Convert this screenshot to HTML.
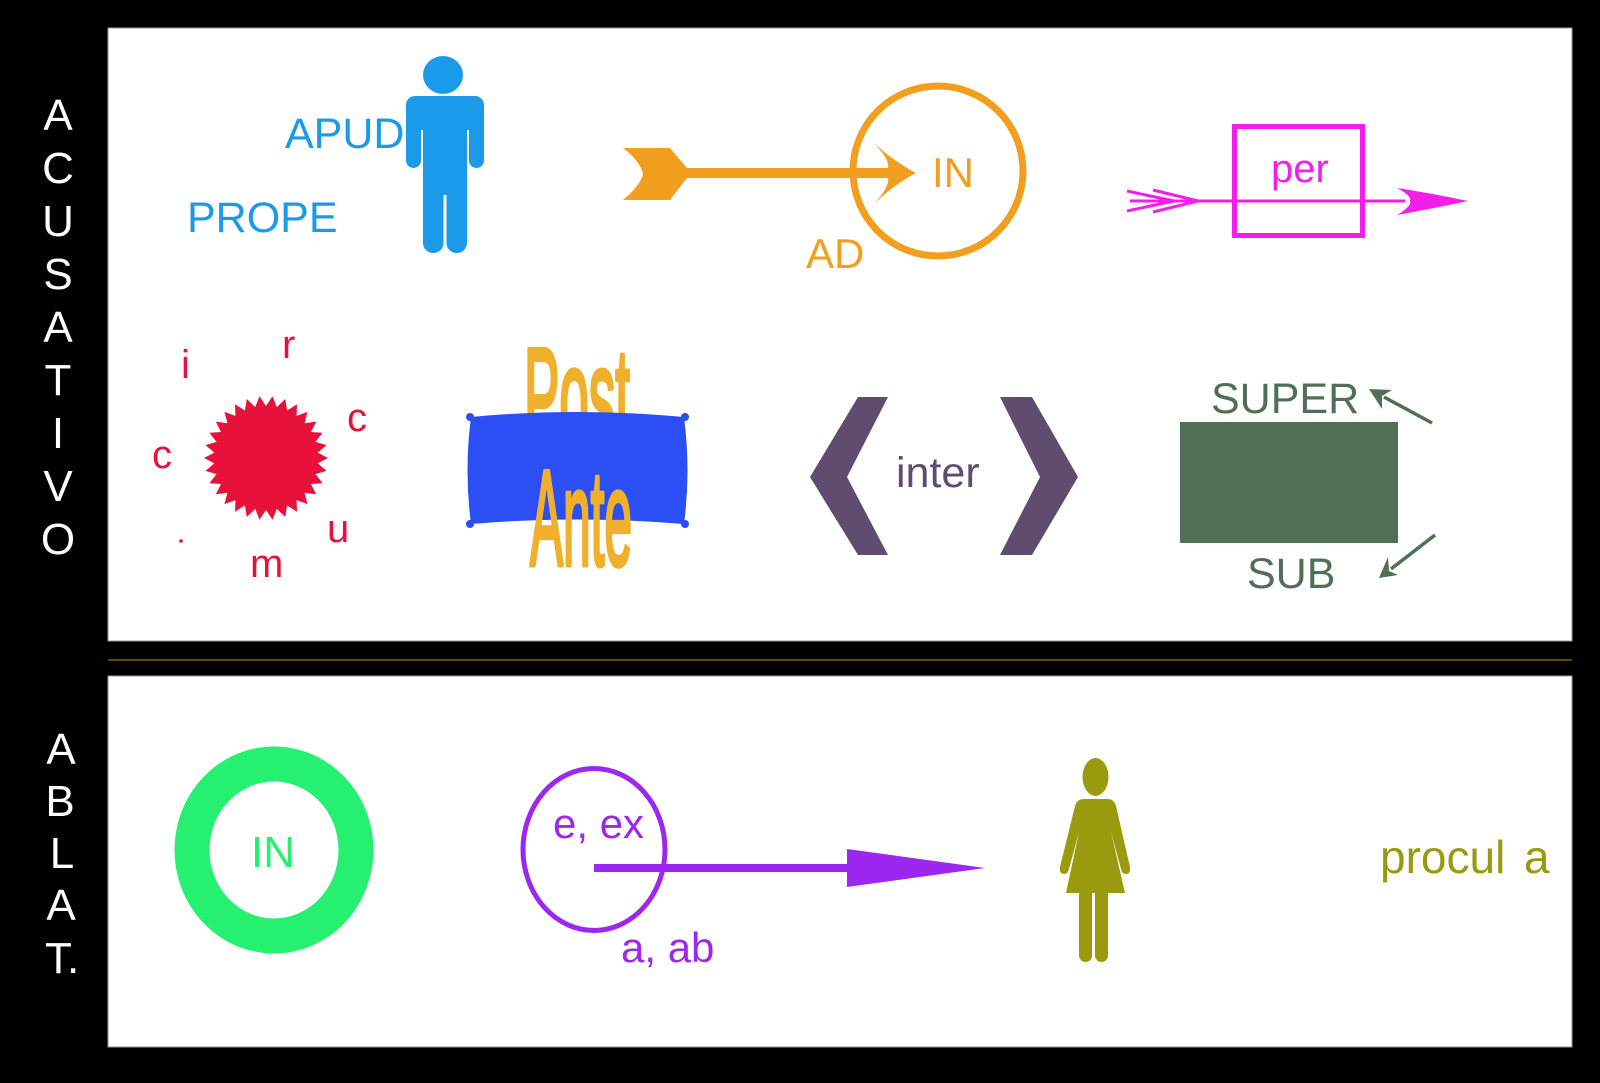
<!DOCTYPE html>
<html>
<head>
<meta charset="utf-8">
<style>
  html,body{margin:0;padding:0;background:#000;}
  svg{display:block;}
  text{font-family:"Liberation Sans", Arial, sans-serif;}
</style>
</head>
<body>
<svg width="1600" height="1083" viewBox="0 0 1600 1083" xmlns="http://www.w3.org/2000/svg">
  <rect x="0" y="0" width="1600" height="1083" fill="#000"/>
  <!-- panels -->
  <rect x="108" y="28" width="1464" height="613" fill="#fff" stroke="#9a9a9a" stroke-width="1"/>
  <line x1="108" y1="660" x2="1572" y2="660" stroke="#8a5a22" stroke-width="1.5"/>
  <rect x="108" y="676" width="1464" height="371" fill="#fff" stroke="#9a9a9a" stroke-width="1"/>

  <!-- left vertical labels -->
  <g fill="#fff" font-size="44" text-anchor="middle">
    <text x="58" y="130">A</text>
    <text x="58" y="183">C</text>
    <text x="58" y="236">U</text>
    <text x="58" y="289">S</text>
    <text x="58" y="342">A</text>
    <text x="58" y="395">T</text>
    <text x="58" y="448">I</text>
    <text x="58" y="501">V</text>
    <text x="58" y="554">O</text>

    <text x="61" y="764">A</text>
    <text x="60" y="816">B</text>
    <text x="62" y="868">L</text>
    <text x="61" y="920">A</text>
    <text x="45" y="973" text-anchor="start">T.</text>
  </g>

  <!-- APUD / PROPE man -->
  <g fill="#1B9AE9">
    <text x="285" y="148" font-size="43">APUD</text>
    <text x="187" y="232" font-size="43">PROPE</text>
    <ellipse cx="443" cy="75" rx="20" ry="19"/>
    <rect x="406" y="96" width="78" height="34" rx="9"/>
    <rect x="406" y="110" width="15" height="58" rx="7.5"/>
    <rect x="469" y="110" width="15" height="58" rx="7.5"/>
    <rect x="423" y="100" width="44" height="95"/>
    <rect x="423" y="170" width="20.5" height="83" rx="10"/>
    <rect x="446.5" y="170" width="20.5" height="83" rx="10"/>
  </g>

  <!-- AD / IN orange -->
  <g fill="#F29E1F">
    <path d="M623,148 L670,148 L687,168 L687,178 L670,200 L623,200 Q640,186 643,174 Q640,161 623,148 Z"/>
    <rect x="684" y="168" width="206" height="10"/>
    <path d="M916,173 Q892,160 874,143 Q890,160 888,168 L888,178 Q890,186 874,204 Q892,186 916,173 Z"/>
    <text x="932" y="187" font-size="42">IN</text>
    <text x="806" y="268" font-size="42">AD</text>
  </g>
  <circle cx="938" cy="171" r="85" fill="none" stroke="#F29E1F" stroke-width="7"/>

  <!-- per magenta -->
  <g stroke="#F41EEA" fill="none">
    <rect x="1234.5" y="126.5" width="128" height="109" stroke-width="5"/>
    <line x1="1130" y1="201" x2="1405" y2="201" stroke-width="3"/>
    <polyline points="1127,191 1174,201 1127,211" stroke-width="3"/>
    <polyline points="1153,190 1198,201 1153,212" stroke-width="3"/>
  </g>
  <path fill="#F41EEA" d="M1468,201 Q1430,193 1397,188 Q1412,196 1410,201 Q1412,206 1397,215 Q1430,209 1468,201 Z"/>
  <text x="1271" y="182" font-size="40" fill="#F41EEA">per</text>

  <!-- circum -->
  <g fill="#E8113B">
    <polygon transform="translate(266,458)" points="62,0 51.7,5.4 60.6,12.9 49.5,16.1 56.6,25.2 45,26 50.2,36.4 38.6,34.8 41.5,46.1 30.6,42.1 31,53.7 21.1,47.5 19.2,59 10.8,50.9 6.5,61.7 0,52 -6.5,61.7 -10.8,50.9 -19.2,59 -21.1,47.5 -31,53.7 -30.6,42.1 -41.5,46.1 -38.6,34.8 -50.2,36.4 -45,26 -56.6,25.2 -49.5,16.1 -60.6,12.9 -51.7,5.4 -62,0 -51.7,-5.4 -60.6,-12.9 -49.5,-16.1 -56.6,-25.2 -45,-26 -50.2,-36.4 -38.6,-34.8 -41.5,-46.1 -30.6,-42.1 -31,-53.7 -21.1,-47.5 -19.2,-59 -10.8,-50.9 -6.5,-61.7 0,-52 6.5,-61.7 10.8,-50.9 19.2,-59 21.1,-47.5 31,-53.7 30.6,-42.1 41.5,-46.1 38.6,-34.8 50.2,-36.4 45,-26 56.6,-25.2 49.5,-16.1 60.6,-12.9 51.7,-5.4"/>
    <g font-size="40">
      <text x="181" y="378">i</text>
      <text x="282" y="358">r</text>
      <text x="347" y="431">c</text>
      <text x="152" y="468">c</text>
      <text x="327" y="542">u</text>
      <text x="250" y="577">m</text>
    </g>
    <circle cx="181" cy="541" r="1.8"/>
  </g>

  <!-- Post / Ante -->
  <text x="524" y="443" font-size="136" textLength="106" lengthAdjust="spacingAndGlyphs" fill="#F1B02C" stroke="#F1B02C" stroke-width="5" stroke-linejoin="round">Post</text>
  <g fill="#2B4EF5">
    <path d="M471,417 Q577,407 684,417 Q691,471 684,524 Q577,515 471,524 Q464,471 471,417 Z"/>
    <circle cx="470" cy="417" r="4"/>
    <circle cx="685" cy="417" r="4"/>
    <circle cx="470" cy="524" r="4"/>
    <circle cx="685" cy="524" r="4"/>
  </g>
  <text x="530" y="565" font-size="136" textLength="102" lengthAdjust="spacingAndGlyphs" fill="#F1B02C" stroke="#F1B02C" stroke-width="5" stroke-linejoin="round">Ante</text>

  <!-- inter -->
  <g fill="#604C6E">
    <polygon points="858,397 888,397 847,477 888,555 858,555 810,477"/>
    <polygon points="1000,397 1032,397 1078,477 1032,555 1000,555 1040,477"/>
    <text x="896" y="487" font-size="43">inter</text>
  </g>

  <!-- SUPER / SUB -->
  <g fill="#507055">
    <rect x="1180" y="422" width="218" height="121"/>
    <text x="1211" y="413" font-size="43">SUPER</text>
    <text x="1247" y="588" font-size="43">SUB</text>
    <polygon points="1369,389 1392,390 1382,396 1382,409"/>
    <polygon points="1379,578 1398,575 1389,571 1388,557"/>
  </g>
  <g stroke="#507055" stroke-width="3.5">
    <line x1="1432" y1="423" x2="1384" y2="397"/>
    <line x1="1435" y1="535" x2="1391" y2="569"/>
  </g>

  <!-- ABLAT: green ring -->
  <ellipse cx="274" cy="850" rx="82" ry="86" fill="none" stroke="#25F06F" stroke-width="35"/>
  <text x="251" y="867" font-size="44" fill="#25F06F">IN</text>

  <!-- e, ex / a, ab -->
  <ellipse cx="594" cy="849.5" rx="71" ry="81" fill="none" stroke="#9B27F0" stroke-width="5"/>
  <g fill="#9B27F0">
    <rect x="594" y="864" width="256" height="8"/>
    <polygon points="847,849 985,868 847,887"/>
    <text x="553" y="838" font-size="42">e, ex</text>
    <text x="621" y="962" font-size="42">a, ab</text>
  </g>

  <!-- woman / procul a -->
  <g fill="#9A9A0E" transform="translate(4,0)">
    <ellipse cx="1091.5" cy="777" rx="13" ry="19"/>
    <path d="M1080,799 L1104,799 Q1110,799 1112,806 L1126,867 Q1127,874 1122,874 Q1118,874 1117,869 L1107,832 L1121,893 L1062,893 L1075,832 L1065,869 Q1064,874 1060,874 Q1055,874 1056,867 L1071,806 Q1073,799 1080,799 Z"/>
    <rect x="1075" y="885" width="13" height="77" rx="6.5"/>
    <rect x="1091" y="885" width="13" height="77" rx="6.5"/>
  </g>
  <g fill="#9A9A0E">
    <text x="1380" y="873" font-size="46">procul</text>
    <text x="1524" y="873" font-size="46">a</text>
  </g>
</svg>
</body>
</html>
